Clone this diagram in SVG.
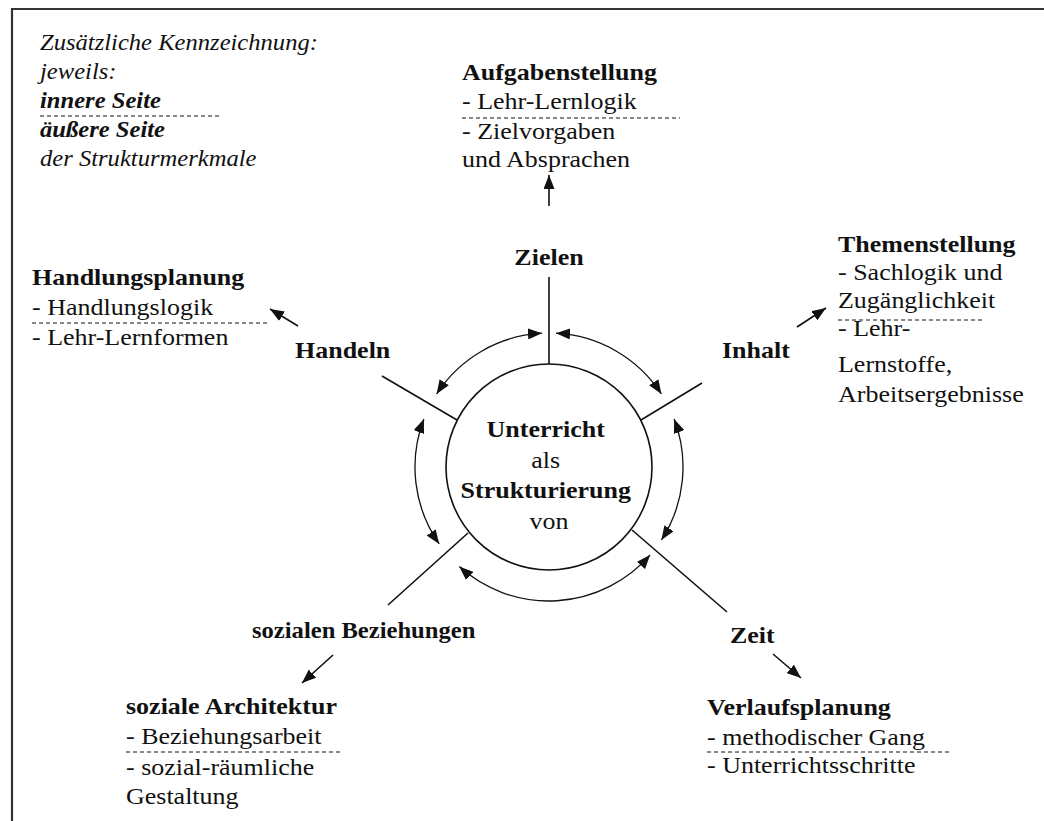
<svg xmlns="http://www.w3.org/2000/svg" width="1044" height="821" viewBox="0 0 1044 821">
  <style>
    text { font-family: "Liberation Serif", "Times New Roman", serif; font-size: 23px; fill: #111; }
    .b { font-weight: bold; }
    .i { font-style: italic; }
    .bi { font-style: italic; font-weight: bold; }
    .mid { text-anchor: middle; }
    .line { stroke: #111; stroke-width: 1.6; fill: none; }
    .arc { stroke: #111; stroke-width: 1.3; fill: none; marker-start: url(#tipS); marker-end: url(#tipS); }
    .out { stroke: #111; stroke-width: 1.6; fill: none; marker-end: url(#tipL); }
    .dash { stroke: #111; stroke-width: 1; stroke-dasharray: 4 3; fill: none; }
  </style>
  <defs>
    <marker id="tipS" markerUnits="userSpaceOnUse" markerWidth="15" markerHeight="11" refX="14" refY="5.5" orient="auto-start-reverse">
      <path d="M0,0 L14,5.5 L0,11 z" fill="#111"/>
    </marker>
    <marker id="tipL" markerUnits="userSpaceOnUse" markerWidth="15" markerHeight="11" refX="14" refY="5.5" orient="auto">
      <path d="M0,0 L14,5.5 L0,11 z" fill="#111"/>
    </marker>
  </defs>

  <rect width="1044" height="821" fill="#fff"/>
  <!-- frame -->
  <path d="M12,821 L12,9 L1044,9" stroke="#333" stroke-width="2.2" fill="none"/>

  <!-- legend -->
  <g id="legend">
    <text class="i" transform="translate(40,50) scale(1.07,1)">
      <tspan x="0" y="0">Zusätzliche Kennzeichnung:</tspan>
      <tspan x="0" y="29">jeweils:</tspan>
      <tspan x="0" y="58" class="bi">innere Seite</tspan>
      <tspan x="0" y="87" class="bi">äußere Seite</tspan>
      <tspan x="0" y="116">der Strukturmerkmale</tspan>
    </text>
    <line class="dash" x1="40" y1="116" x2="222" y2="116"/>
  </g>

  <!-- centre -->
  <g id="center">
    <circle cx="549" cy="467" r="103" class="line" stroke-width="1.3"/>
    <text class="mid" transform="translate(549,437) scale(1.13,1)">
      <tspan x="0" y="0" class="b">Unterricht</tspan>
      <tspan x="0" y="31">als</tspan>
      <tspan x="0" y="61" class="b">Strukturierung</tspan>
      <tspan x="0" y="92">von</tspan>
    </text>
  </g>

  <!-- connectors -->
  <g id="connectors">
    <!-- spokes -->
    <line class="line" x1="549" y1="277" x2="549" y2="364"/>
    <line class="line" x1="382" y1="376" x2="457" y2="420"/>
    <line class="line" x1="641" y1="420" x2="702" y2="383"/>
    <line class="line" x1="468" y1="533" x2="388" y2="605"/>
    <line class="line" x1="632" y1="530" x2="727" y2="612"/>
    <!-- ring of double arrows -->
    <path class="arc" d="M436.6,394 A134,134 0 0 1 542,333.2"/>
    <path class="arc" d="M556,333.2 A134,134 0 0 1 661.4,394"/>
    <path class="arc" d="M674.1,419 A134,134 0 0 1 661.4,540"/>
    <path class="arc" d="M650.1,554.9 A134,134 0 0 1 459.3,566.6"/>
    <path class="arc" d="M439.2,543.9 A134,134 0 0 1 423.9,419"/>
    <!-- outward arrows -->
    <line class="out" x1="549" y1="206" x2="549" y2="175"/>
    <line class="out" x1="298" y1="326" x2="270" y2="309"/>
    <line class="out" x1="797" y1="327" x2="826" y2="308"/>
    <line class="out" x1="333" y1="655" x2="302" y2="683"/>
    <line class="out" x1="773" y1="654" x2="801" y2="678"/>
  </g>

  <!-- goals -->
  <g id="zielen">
    <text class="b mid" transform="translate(549,265) scale(1.13,1)">Zielen</text>
  </g>
  <g id="aufgabenstellung">
    <text transform="translate(462,80) scale(1.13,1)">
      <tspan x="0" y="0" class="b">Aufgabenstellung</tspan>
      <tspan x="0" y="29">- Lehr-Lernlogik</tspan>
      <tspan x="0" y="59">- Zielvorgaben</tspan>
      <tspan x="0" y="87">und Absprachen</tspan>
    </text>
    <line class="dash" x1="462" y1="118" x2="680" y2="118"/>
  </g>

  <!-- content -->
  <g id="inhalt">
    <text class="b" transform="translate(722,358) scale(1.13,1)">Inhalt</text>
  </g>
  <g id="themenstellung">
    <text transform="translate(838,252) scale(1.13,1)">
      <tspan x="0" y="0" class="b">Themenstellung</tspan>
      <tspan x="0" y="28">- Sachlogik und</tspan>
      <tspan x="0" y="56">Zugänglichkeit</tspan>
      <tspan x="0" y="84">- Lehr-</tspan>
      <tspan x="0" y="120">Lernstoffe,</tspan>
      <tspan x="0" y="150">Arbeitsergebnisse</tspan>
    </text>
    <line class="dash" x1="838" y1="320" x2="984" y2="320"/>
  </g>

  <!-- action -->
  <g id="handeln">
    <text class="b" transform="translate(295,358) scale(1.13,1)">Handeln</text>
  </g>
  <g id="handlungsplanung">
    <text transform="translate(32,285) scale(1.13,1)">
      <tspan x="0" y="0" class="b">Handlungsplanung</tspan>
      <tspan x="0" y="30">- Handlungslogik</tspan>
      <tspan x="0" y="60">- Lehr-Lernformen</tspan>
    </text>
    <line class="dash" x1="32" y1="323" x2="268" y2="323"/>
  </g>

  <!-- social relations -->
  <g id="beziehungen">
    <text class="b" transform="translate(252,638) scale(1.07,1)">sozialen Beziehungen</text>
  </g>
  <g id="architektur">
    <text transform="translate(126,714) scale(1.13,1)">
      <tspan x="0" y="0" class="b">soziale Architektur</tspan>
      <tspan x="0" y="30">- Beziehungsarbeit</tspan>
      <tspan x="0" y="61">- sozial-räumliche</tspan>
      <tspan x="0" y="90">Gestaltung</tspan>
    </text>
    <line class="dash" x1="126" y1="752" x2="342" y2="752"/>
  </g>

  <!-- time -->
  <g id="zeit">
    <text class="b" transform="translate(730,643) scale(1.13,1)">Zeit</text>
  </g>
  <g id="verlaufsplanung">
    <text transform="translate(707,715) scale(1.13,1)">
      <tspan x="0" y="0" class="b">Verlaufsplanung</tspan>
      <tspan x="0" y="30">- methodischer Gang</tspan>
      <tspan x="0" y="58">- Unterrichtsschritte</tspan>
    </text>
    <line class="dash" x1="707" y1="752" x2="952" y2="752"/>
  </g>
</svg>
